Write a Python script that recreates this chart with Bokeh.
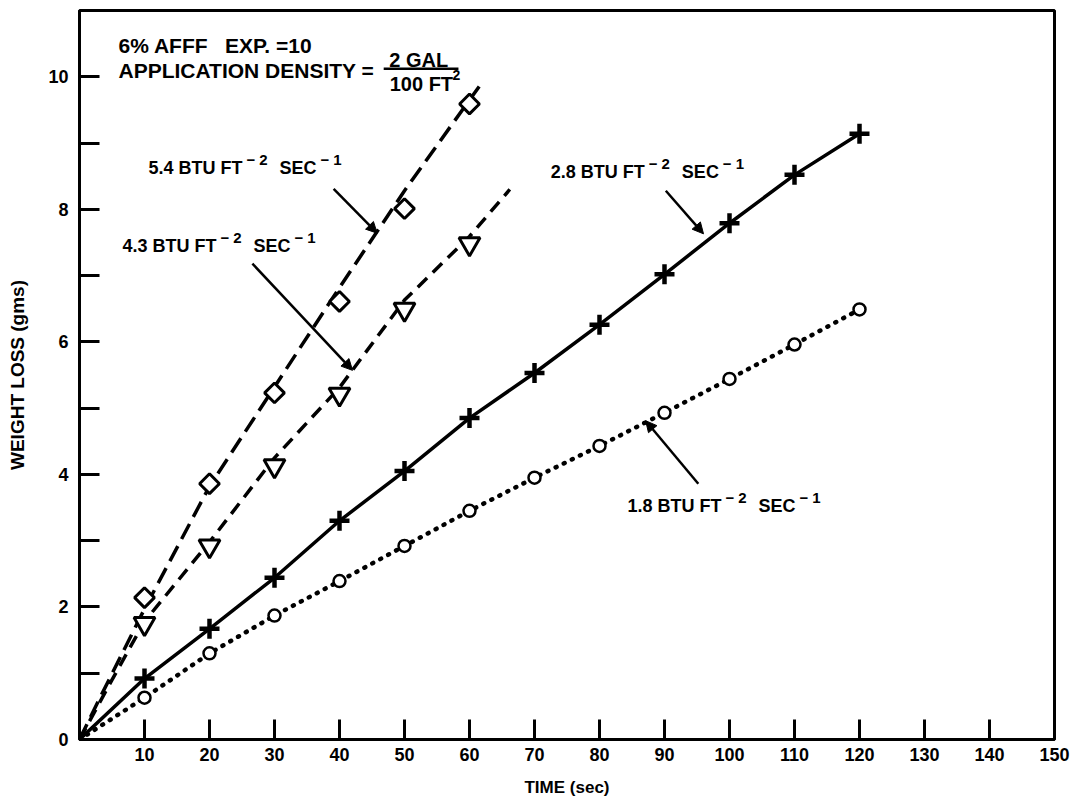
from bokeh.plotting import figure
from bokeh.models import Range1d, FixedTicker, Label, Arrow, NormalHead
from bokeh.embed import file_html
from bokeh.resources import INLINE
import math

# ---- measurements: weight loss (gms) against time (sec) ----
TIME_10S = [10, 20, 30, 40, 50, 60, 70, 80, 90, 100, 110, 120]
TIME_6 = [10, 20, 30, 40, 50, 60]

LOSS_54 = [2.14, 3.86, 5.23, 6.61, 8.01, 9.59]            # 5.4 BTU ft^-2 s^-1, diamonds
LOSS_43 = [1.75, 2.92, 4.13, 5.21, 6.49, 7.48]            # 4.3 BTU ft^-2 s^-1, triangles
LOSS_28 = [0.92, 1.67, 2.44, 3.30, 4.05, 4.85,
           5.53, 6.26, 7.02, 7.79, 8.52, 9.14]            # 2.8 BTU ft^-2 s^-1, crosses
LOSS_18 = [0.63, 1.30, 1.87, 2.39, 2.92, 3.45,
           3.95, 4.43, 4.93, 5.44, 5.96, 6.49]            # 1.8 BTU ft^-2 s^-1, circles

# hand-faired curves through the two high-flux series
CURVE_54_T = [0, 3, 10, 20, 30, 40, 50, 62.2]
CURVE_54_W = [0, 0.60, 1.97, 3.82, 5.32, 6.82, 8.28, 9.95]
CURVE_43_T = [0, 5, 10, 20, 30, 40, 50, 60, 66.2]
CURVE_43_W = [0, 0.90, 1.78, 2.98, 4.25, 5.31, 6.63, 7.59, 8.30]

X_TICKS = [10, 20, 30, 40, 50, 60, 70, 80, 90, 100, 110, 120, 130, 140, 150]
Y_TICKS = [0, 2, 4, 6, 8, 10]
Y_MINOR = [1, 3, 5, 7, 9]

FONT = "Liberation Sans"
INK = "black"
NBSP = "\u00a0"

p = figure(frame_width=975, frame_height=729,
           x_range=Range1d(0, 150), y_range=Range1d(0, 11),
           output_backend="svg", toolbar_location=None,
           min_border_left=79, min_border_right=28,
           min_border_top=10, min_border_bottom=67,
           background_fill_color="white", border_fill_color="white")

p.xgrid.visible = False
p.ygrid.visible = False
p.outline_line_color = INK
p.outline_line_width = 3
p.outline_line_alpha = 1.0

for ax in (p.xaxis[0], p.yaxis[0]):
    ax.axis_line_color = INK
    ax.axis_line_width = 3
    ax.major_tick_line_color = INK
    ax.major_tick_line_width = 3
    ax.major_tick_in = 20
    ax.major_tick_out = 0
    ax.minor_tick_line_color = INK
    ax.minor_tick_line_width = 3
    ax.minor_tick_in = 0
    ax.minor_tick_out = 0
    ax.major_label_text_font = FONT
    ax.major_label_text_font_style = "bold"
    ax.major_label_text_font_size = "18px"
    ax.major_label_text_color = INK
    ax.axis_label_text_font = FONT
    ax.axis_label_text_font_style = "bold"
    ax.axis_label_text_color = INK

p.xaxis.ticker = FixedTicker(ticks=X_TICKS)
p.xaxis.major_label_standoff = 8
p.xaxis.axis_label = "TIME (sec)"
p.xaxis.axis_label_text_font_size = "17px"
p.xaxis.axis_label_standoff = 14

p.yaxis.ticker = FixedTicker(ticks=Y_TICKS, minor_ticks=Y_MINOR)
p.yaxis.minor_tick_in = 20
p.yaxis.major_label_standoff = 11
p.yaxis.axis_label = "WEIGHT LOSS (gms)"
p.yaxis.axis_label_text_font_size = "19px"
p.yaxis.axis_label_standoff = 17

# ---- curves ----
p.line(CURVE_54_T, CURVE_54_W, line_color=INK, line_width=3.5, line_dash="17 8")
p.line(CURVE_43_T, CURVE_43_W, line_color=INK, line_width=3.5, line_dash="13 8")
p.line([0] + TIME_10S, [0] + LOSS_28, line_color=INK, line_width=3.5, line_join="round")
p.line([0] + TIME_10S, [0] + LOSS_18, line_color=INK, line_width=4.5,
       line_dash="1 8", line_cap="round")

# ---- markers ----
p.scatter(TIME_6, LOSS_54, marker="square", size=14, angle=math.pi / 4,
          fill_color="white", line_color=INK, line_width=3)
p.scatter(TIME_6, LOSS_43, marker="inverted_triangle", size=21,
          fill_color="white", line_color=INK, line_width=3)
p.scatter(TIME_10S, LOSS_28, marker="cross", size=20, line_color=INK, line_width=4.5)
p.scatter(TIME_10S, LOSS_18, marker="circle", size=12,
          fill_color="white", line_color=INK, line_width=2.5)

# ---- text helpers ----
BOLD_WIDTHS = {" ": 278, ".": 278, "−": 584, "B": 722, "T": 611, "U": 722,
               "F": 611, "S": 667, "E": 667, "C": 722}
for d in "0123456789":
    BOLD_WIDTHS[d] = 556


def text_width(s, size):
    return sum(BOLD_WIDTHS[c] for c in s) * size / 1000.0


def add_text(x, y, text, size, x_offset=0, y_offset=0, align="left"):
    p.add_layout(Label(x=x, y=y, text=text, x_offset=x_offset, y_offset=y_offset,
                       text_font=FONT, text_font_style="bold",
                       text_font_size=f"{size}px", text_color=INK,
                       text_align=align, text_baseline="middle"))


def flux_label(x, y, value):
    main, sup = 18, 15
    parts = [(f"{value} BTU FT", main, 0, 4),
             ("−", sup, 8, 4), ("2", sup, 8, 12),
             ("SEC", main, 0, 4),
             ("−", sup, 8, 4), ("1", sup, 8, 0)]
    off = 0.0
    for txt, size, rise, gap in parts:
        add_text(x, y, txt, size, x_offset=off, y_offset=rise)
        off += text_width(txt, size) + gap


def pointer(x0, y0, x1, y1):
    p.add_layout(Arrow(x_start=x0, y_start=y0, x_end=x1, y_end=y1,
                       line_color=INK, line_width=2.5,
                       end=NormalHead(size=11, fill_color=INK, line_color=INK,
                                      line_width=1)))


# ---- heat-flux call-outs ----
flux_label(10.6, 8.62, "5.4")
pointer(39.1, 8.31, 45.8, 7.64)

flux_label(6.6, 7.45, "4.3")
pointer(26.6, 7.18, 42.0, 5.57)

flux_label(72.5, 8.56, "2.8")
pointer(90.2, 8.28, 96.0, 7.63)

flux_label(84.3, 3.52, "1.8")
pointer(95.2, 3.86, 87.1, 4.81)

# ---- test conditions ----
add_text(6.0, 10.47, f"6% AFFF{NBSP}{NBSP} EXP. =10", 21)
add_text(6.0, 10.09, "APPLICATION DENSITY =", 21)
add_text(52.2, 10.26, "2 GAL", 20, align="center")
p.segment(x0=[46.8], y0=[10.12], x1=[58.3], y1=[10.12], line_color=INK, line_width=2.5)
add_text(52.6, 9.89, "100 FT", 20, align="center")
add_text(57.4, 10.02, "2", 14)

open("out.html", "w").write(file_html(p, INLINE))
